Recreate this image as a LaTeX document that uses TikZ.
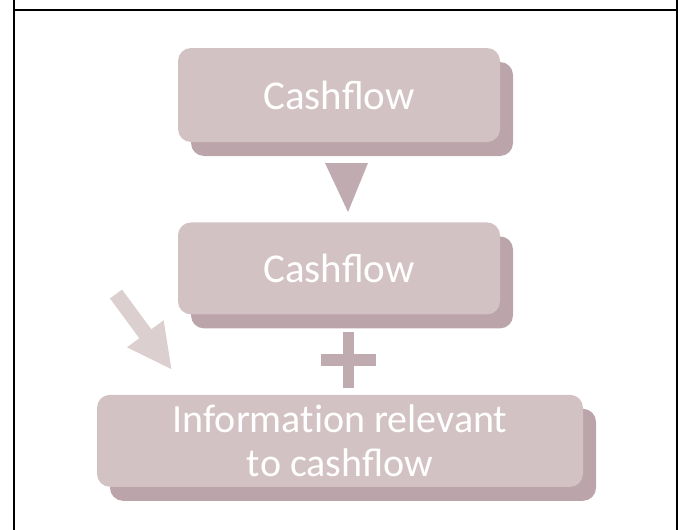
\documentclass[tikz,border=0pt]{standalone}
\usepackage{fontspec}
\setmainfont{Carlito}
\usetikzlibrary{positioning,shadows,arrows.meta}
\definecolor{boxfill}{HTML}{D3C2C4}
\definecolor{boxshade}{HTML}{BBA5AA}
\definecolor{markfill}{HTML}{BFABB0}
\definecolor{hintfill}{HTML}{DCCFCF}
\tikzset{
  flowbox/.style={rectangle, rounded corners=13pt, fill=boxfill, text=white,
    inner sep=0pt, align=center, font=\fontsize{41}{45}\selectfont,
    drop shadow={shadow xshift=13pt, shadow yshift=-14pt, fill=boxshade, opacity=1}},
  frameline/.style={line width=2pt, black}
}

\begin{document}
\begin{tikzpicture}[x=1pt, y=-1pt, node distance=80pt]
  \useasboundingbox (0,0) rectangle (680,530);
  % frame
  \draw[frameline] (13.7,0) -- (13.7,530)
                   (677,0) -- (677,530)
                   (13.7,10.3) -- (677,10.3);
  % boxes
  \node[flowbox, minimum width=322pt, minimum height=94pt] (cf1) at (339,95) {Cashflow};
  \node[flowbox, minimum width=322pt, minimum height=92pt, below=of cf1] (cf2) {Cashflow};
  \node[flowbox, minimum width=486pt, minimum height=92pt, below=of cf2, xshift=1pt,
        font=\fontsize{40}{44}\selectfont] (info) {Informat\kern0pt ion relevant\\to cashflow};
  % down marker and plus
  \fill[markfill] (325,163) -- (368,163) -- (348,212) -- cycle;
  \fill[markfill] (342.6,332) rectangle (354.4,388);
  \fill[markfill] (321,354) rectangle (375.5,366.4);
  % side hint arrow
  \coordinate (hint) at (116,294);
  \coordinate (hinttip) at (172,370);
  \draw[hintfill, line width=15pt, -{Triangle[length=45pt,width=42pt]}] (hint) -- (hinttip);
\end{tikzpicture}
\end{document}
